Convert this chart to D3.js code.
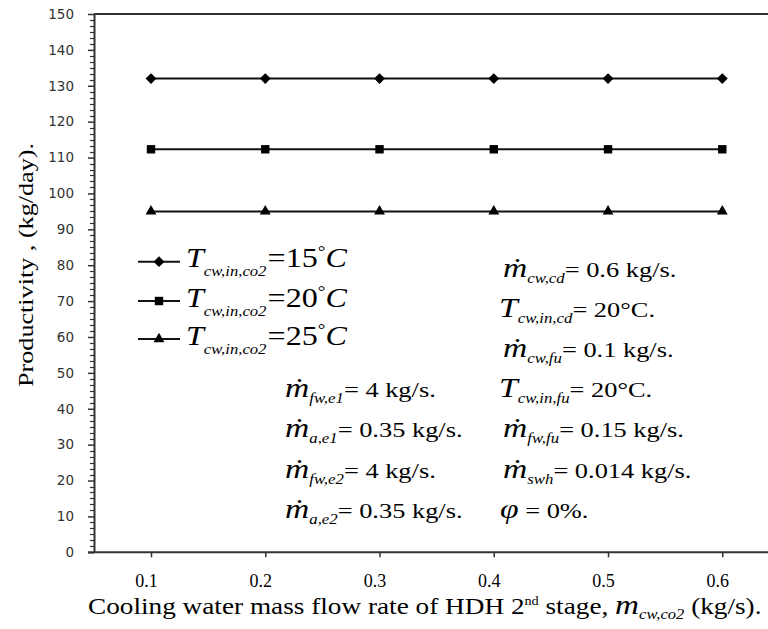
<!DOCTYPE html>
<html>
<head>
<meta charset="utf-8" />
<style>
  html, body { margin: 0; padding: 0; background: #fff; }
  svg { display: block; }
</style>
</head>
<body>
<svg id="chart"></svg>
<script src="https://d3js.org/d3.v7.min.js"></script>
<script>
  // flow rate of cooling water, 2nd stage (kg/s)
  const flowRates = [0.1, 0.2, 0.3, 0.4, 0.5, 0.6];
  const prod15 = [132, 132, 132, 132, 132, 132];
  const prod20 = [112.3, 112.3, 112.3, 112.3, 112.3, 112.3];
  const prod25 = [95, 95, 95, 95, 95, 95];
  const seriesNames = ["=15", "=20", "=25"];
  const yTicks = [0, 10, 20, 30, 40, 50, 60, 70, 80, 90, 100, 110, 120, 130, 140, 150];

  const width = 768;
  const height = 629;
  const marginLeft = 94;
  const marginTop = 14;
  const marginBottom = 77;

  const svg = d3.select("#chart")
    .attr("width", width)
    .attr("height", height)
    .attr("viewBox", [0, 0, width, height]);

  const x = d3.scaleLinear().domain([0.1, 0.6]).range([151, 722.3]);
  const y = d3.scaleLinear().domain([0, 150]).range([height - marginBottom + 0.3, marginTop]);

  const serif = "Liberation Serif";
  const axisColor = "#333";

  // top border line
  svg.append("line")
    .attr("x1", marginLeft).attr("x2", width)
    .attr("y1", y(150)).attr("y2", y(150))
    .attr("stroke", axisColor).attr("stroke-width", 2);

  // y axis: minor ticks (6 per interval)
  const minor = d3.range(0, 150, 10 / 6).filter((v) => Math.abs(v % 10) > 0.01 && Math.abs(v % 10 - 10) > 0.01);
  svg.append("g")
    .selectAll("line")
    .data(minor)
    .join("line")
    .attr("x1", marginLeft - 4).attr("x2", marginLeft)
    .attr("y1", (d) => Math.round(y(d)) + 0.5).attr("y2", (d) => Math.round(y(d)) + 0.5)
    .attr("stroke", axisColor).attr("stroke-width", 1.2);

  svg.append("g")
    .attr("transform", `translate(${marginLeft},0)`)
    .call(d3.axisLeft(y).tickValues(yTicks).tickSize(6).tickPadding(14).tickSizeOuter(0))
    .call((g) => g.select(".domain").attr("stroke", axisColor).attr("stroke-width", 2))
    .call((g) => g.selectAll(".tick line").attr("stroke", axisColor).attr("stroke-width", 1.5))
    .call((g) => g.selectAll(".tick text")
      .attr("font-family", "DejaVu Sans")
      .attr("font-size", 13.5)
      .attr("fill", "#333"));

  // x axis
  svg.append("line")
    .attr("x1", marginLeft - 6).attr("x2", width)
    .attr("y1", y(0)).attr("y2", y(0))
    .attr("stroke", axisColor).attr("stroke-width", 2);

  svg.append("g")
    .attr("transform", `translate(0,${y(0)})`)
    .call(d3.axisBottom(x).tickValues(flowRates).tickSize(5).tickPadding(17).tickSizeOuter(0).tickFormat(d3.format(".1f")))
    .call((g) => g.select(".domain").remove())
    .call((g) => g.selectAll(".tick line").attr("stroke", axisColor).attr("stroke-width", 1.5))
    .call((g) => g.selectAll(".tick text")
      .attr("font-family", serif)
      .attr("font-size", 18)
      .attr("dx", -5)
      .attr("fill", "#000"));

  // series
  const series = [
    { name: seriesNames[0], values: prod15, symbol: d3.symbolDiamond2, size: 75 },
    { name: seriesNames[1], values: prod20, symbol: d3.symbolSquare2, size: 90 },
    { name: seriesNames[2], values: prod25, symbol: d3.symbolTriangle2, size: 85 },
  ];
  const line = d3.line().x((d, i) => x(flowRates[i])).y((d) => y(d));

  series.forEach((s) => {
    svg.append("path")
      .datum(s.values)
      .attr("d", line)
      .attr("fill", "none")
      .attr("stroke", "#111")
      .attr("stroke-width", 2);
    svg.append("g")
      .selectAll("path")
      .data(s.values)
      .join("path")
      .attr("transform", (d, i) => `translate(${x(flowRates[i])},${y(d)})`)
      .attr("d", d3.symbol().type(s.symbol).size(s.size))
      .attr("fill", "#000");
  });

  // legend
  const legendY = [261.7, 301, 339];
  const legend = svg.append("g");
  series.forEach((s, i) => {
    const g = legend.append("g").attr("transform", `translate(0,${legendY[i]})`);
    g.append("line").attr("x1", 138).attr("x2", 180).attr("y1", 0).attr("y2", 0)
      .attr("stroke", "#111").attr("stroke-width", 2);
    g.append("path")
      .attr("transform", "translate(159,0)")
      .attr("d", d3.symbol().type(s.symbol).size(s.size))
      .attr("fill", "#000");
    const t = g.append("text")
      .attr("transform", "translate(186,5.5) scale(1.19,1)")
      .attr("font-family", serif)
      .attr("font-size", 27);
    t.append("tspan").attr("font-style", "italic").text("T");
    t.append("tspan").attr("font-style", "italic").attr("font-size", 14).attr("dy", 9).text("cw,in,co2");
    t.append("tspan").attr("dy", -9).attr("dx", 1).text(s.name);
    t.append("tspan").attr("font-size", 16).attr("dy", -10).text("°");
    t.append("tspan").attr("font-style", "italic").attr("dy", 10).text("C");
  });

  // operating conditions
  const notes = [
    { x: 503, y: 277, sym: "ṁ", sub: "cw,cd", rest: "= 0.6 kg/s." },
    { x: 499, y: 317, sym: "T", sub: "cw,in,cd", rest: "= 20°C." },
    { x: 503, y: 357, sym: "ṁ", sub: "cw,fu", rest: "= 0.1 kg/s." },
    { x: 499, y: 397, sym: "T", sub: "cw,in,fu", rest: "= 20°C." },
    { x: 503, y: 437, sym: "ṁ", sub: "fw,fu", rest: "= 0.15 kg/s." },
    { x: 503, y: 478, sym: "ṁ", sub: "swh", rest: "= 0.014 kg/s." },
    { x: 500, y: 518, sym: "φ", sub: "", rest: " = 0%." },
    { x: 285, y: 397, sym: "ṁ", sub: "fw,e1", rest: "= 4 kg/s." },
    { x: 285, y: 437, sym: "ṁ", sub: "a,e1", rest: "= 0.35 kg/s." },
    { x: 285, y: 478, sym: "ṁ", sub: "fw,e2", rest: "= 4 kg/s." },
    { x: 285, y: 518, sym: "ṁ", sub: "a,e2", rest: "= 0.35 kg/s." },
  ];
  const noteG = svg.append("g").attr("font-family", serif).attr("fill", "#000");
  notes.forEach((n) => {
    const t = noteG.append("text")
      .attr("transform", `translate(${n.x},${n.y}) scale(1.2,1)`)
      .attr("font-family", serif)
      .attr("font-size", 22);
    t.append("tspan").attr("font-style", "italic").attr("font-size", 28).text(n.sym);
    if (n.sub) {
      t.append("tspan").attr("font-style", "italic").attr("font-size", 14).attr("dy", 6).text(n.sub);
      t.append("tspan").attr("dy", -6).text(n.rest);
    } else {
      t.append("tspan").text(n.rest);
    }
  });

  // axis titles
  svg.append("text")
    .attr("transform", `translate(33,265) rotate(-90)`)
    .attr("text-anchor", "middle")
    .attr("font-family", serif)
    .attr("font-size", 20)
    .attr("textLength", 244)
    .attr("lengthAdjust", "spacingAndGlyphs")
    .text("Productivity , (kg/day).");

  const xt = svg.append("text")
    .attr("transform", "translate(88,614) scale(1.185,1)")
    .attr("font-family", serif)
    .attr("font-size", 23);
  xt.append("tspan").text("Cooling water mass flow rate of HDH 2");
  xt.append("tspan").attr("font-size", 12).attr("dy", -9).text("nd");
  xt.append("tspan").attr("dy", 9).text(" stage, ");
  xt.append("tspan").attr("font-style", "italic").attr("font-size", 28).text("m");
  xt.append("tspan").attr("font-style", "italic").attr("font-size", 14).attr("dy", 5).text("cw,co2");
  xt.append("tspan").attr("dy", -5).text(" (kg/s).");
</script>
</body>
</html>
